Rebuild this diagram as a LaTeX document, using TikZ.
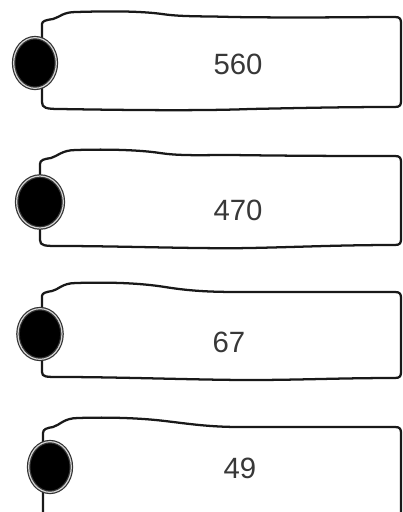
\documentclass[tikz,border=0pt]{standalone}
\usepackage{fontspec}
\setmainfont{Liberation Sans}
\usetikzlibrary{shapes.geometric}

\begin{document}
\begin{tikzpicture}[x=0.75pt,y=0.75pt,yscale=-1,
  tag/.style={line width=1.7pt, color=black!90, line join=round, fill=white},
  dot/.style={ellipse, inner sep=0pt, fill=black, draw=black!80, double=gray!35,
    double distance=0.9pt, line width=0.9pt, minimum width=32pt, minimum height=38pt},
  val/.style={font=\fontsize{22}{26}\selectfont, text=black!78, inner sep=0.75pt}]
\useasboundingbox (0,0) rectangle (403,512);
\clip (0,0) rectangle (403,512);

%Curve Lines
\draw [tag] (42,102) -- (42,24) .. controls (42,21) and (46,20) .. (53,19) .. controls (60,17) and (63,12) .. (76,12) .. controls (110,11) and (140,11) .. (162,14) .. controls (182,17) and (205,16) .. (232,17) .. controls (300,18) and (360,17) .. (395,17) .. controls (400,17) and (401,19) .. (401,23) -- (401,101) .. controls (401,105) and (400,107) .. (395,107) .. controls (340,107) and (300,108) .. (250,109) .. controls (200,111) and (120,110) .. (60,109) .. controls (46,109) and (42,108) .. (42,102) -- cycle ;
%Curve Lines
\draw [tag] (40,240) -- (40,164) .. controls (40,160) and (44,159) .. (51,158) .. controls (58,156) and (62,150) .. (76,150) .. controls (110,149) and (140,150) .. (160,153) .. controls (180,156) and (200,155) .. (232,155) .. controls (300,156) and (360,156) .. (395,156) .. controls (400,156) and (401,158) .. (401,162) -- (401,239) .. controls (401,243) and (400,245) .. (395,245) .. controls (340,245) and (300,247) .. (250,248) .. controls (200,249) and (120,246) .. (60,246) .. controls (45,246) and (40,246) .. (40,240) -- cycle ;
%Curve Lines
\draw [tag] (42,372) -- (42,296) .. controls (42,293) and (46,292) .. (52,291) .. controls (58,290) and (62,283) .. (76,283) .. controls (110,282) and (140,283) .. (165,287) .. controls (190,291) and (210,292) .. (240,292) .. controls (300,292) and (360,292) .. (395,292) .. controls (400,292) and (401,294) .. (401,298) -- (401,372) .. controls (401,376) and (400,378) .. (395,378) .. controls (340,378) and (300,380) .. (250,380) .. controls (200,380) and (120,377) .. (60,377) .. controls (46,377) and (42,377) .. (42,372) -- cycle ;
%Curve Lines
\draw [tag] (43,530) -- (43,433) .. controls (43,429) and (47,428) .. (53,427) .. controls (60,425) and (64,418) .. (78,418) .. controls (110,417) and (140,418) .. (165,421) .. controls (190,424) and (210,427) .. (240,427) .. controls (300,427) and (360,427) .. (395,427) .. controls (400,427) and (401,429) .. (401,433) -- (401,530) ;

%Shape: Ellipse
\node [dot] (dot1) at (35,63) {};
\node [dot, minimum width=35pt, minimum height=39pt] (dot2) at (40,202) {};
\node [dot, minimum width=33pt] (dot3) at (40,334) {};
\node [dot] (dot4) at (50,467) {};

% Text Node
\node [val] (v560) at (238,64) {560};
% Text Node
\node [val] (v470) at (238,210) {470};
% Text Node
\node [val] (v67) at (229,342) {67};
% Text Node
\node [val] (v49) at (240,468) {49};
\end{tikzpicture}
\end{document}
